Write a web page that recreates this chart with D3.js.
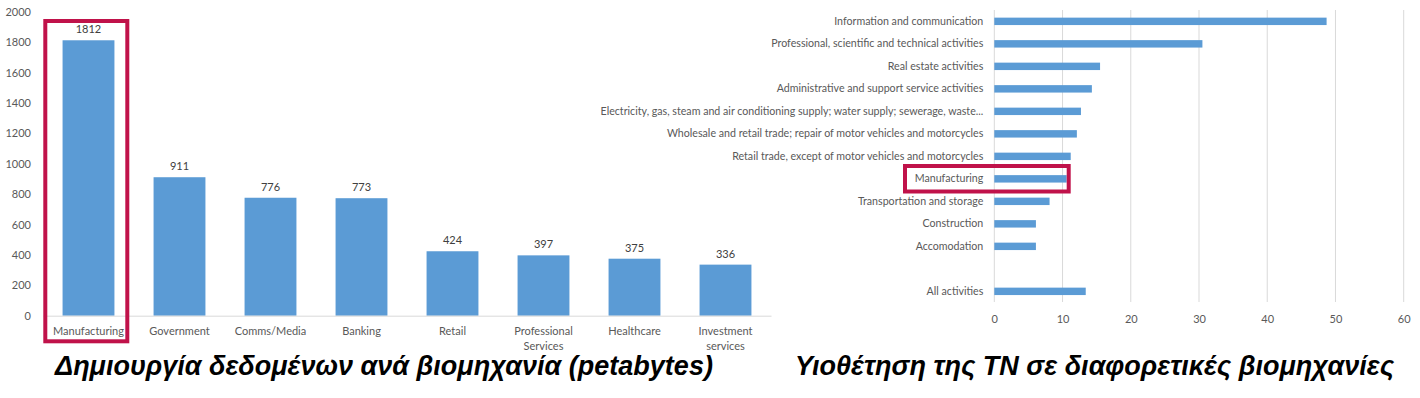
<!DOCTYPE html>
<meta charset="utf-8" />
<style>
    body { margin: 0; background: #fff; }
    .tick text { fill: #595959; font-family: Lato, "Open Sans", sans-serif; font-size: 11px; }
    .cats .tick text { font-size: 10.65px; }
    .vlabel { fill: #404040; font-family: Lato, "Open Sans", sans-serif; font-size: 11px; }
    .title { font-family: "Liberation Sans", Arial, sans-serif; font-weight: bold; font-style: italic; font-size: 27px; fill: #000; }
</style>
<svg width="1420" height="398"></svg>
<script src="https://d3js.org/d3.v7.min.js"></script>
<script>
    // left chart data (petabytes)
    var leftCategories = ["Manufacturing", "Government", "Comms/Media", "Banking", "Retail",
        "Professional Services", "Healthcare", "Investment services"];
    var leftValues = [1812, 911, 776, 773, 424, 397, 375, 336];
    var leftTicks = [0, 200, 400, 600, 800, 1000, 1200, 1400, 1600, 1800, 2000];

    // right chart data (blank row before "All activities")
    var rightCategories = [
        "Information and communication",
        "Professional, scientific and technical activities",
        "Real estate activities",
        "Administrative and support service activities",
        "Electricity, gas, steam and air conditioning supply; water supply; sewerage, waste...",
        "Wholesale and retail trade; repair of motor vehicles and motorcycles",
        "Retail trade, except of motor vehicles and motorcycles",
        "Manufacturing",
        "Transportation and storage",
        "Construction",
        "Accomodation",
        "",
        "All activities"
    ];
    var rightValues = [48.7, 30.5, 15.5, 14.3, 12.7, 12.1, 11.2, 10.6, 8.1, 6.1, 6.1, null, 13.4];
    var rightTicks = [0, 10, 20, 30, 40, 50, 60];

    var titles = ["Δημιουργία δεδομένων ανά βιομηχανία (petabytes)",
        "Υιοθέτηση της ΤΝ σε διαφορετικές βιομηχανίες"];

    var svg = d3.select("svg");
    var barColor = "#5b9bd5";
    var boxColor = "#c0124a";

    // ---------- left chart ----------
    var x1 = d3.scaleBand().domain(leftCategories).range([43, 771])
        .paddingInner(0.43).paddingOuter(0.215);
    var y1 = d3.scaleLinear().domain([0, 2000]).range([315.7, 11.7]);

    var left = svg.append("g");

    left.append("g")
        .attr("transform", "translate(43,0)")
        .call(d3.axisLeft(y1).tickValues(leftTicks).tickSize(0).tickPadding(12).tickFormat(d3.format("d")))
        .call(function (g) { g.select(".domain").remove(); });

    left.selectAll("rect")
        .data(leftValues)
        .enter()
        .append("rect")
        .attr("x", function (d, i) { return x1(leftCategories[i]); })
        .attr("y", function (d) { return y1(d); })
        .attr("width", x1.bandwidth())
        .attr("height", function (d) { return y1(0) - y1(d); })
        .attr("fill", barColor);

    left.selectAll(".vlabel")
        .data(leftValues)
        .enter()
        .append("text")
        .attr("class", "vlabel")
        .attr("x", function (d, i) { return x1(leftCategories[i]) + x1.bandwidth() / 2; })
        .attr("y", function (d) { return y1(d) - 7; })
        .attr("text-anchor", "middle")
        .text(function (d) { return d; });

    var xAxis1 = left.append("g")
        .attr("transform", "translate(0," + y1(0) + ")")
        .call(d3.axisBottom(x1).tickSize(0).tickPadding(12));
    xAxis1.select(".domain").attr("stroke", "#d9d9d9");
    xAxis1.selectAll(".tick text").call(wrap, 80);

    // red highlight box
    left.append("rect")
        .attr("x", 45.3).attr("y", 21)
        .attr("width", 82).attr("height", 320.3)
        .attr("fill", "none").attr("stroke", boxColor).attr("stroke-width", 4);

    // ---------- right chart ----------
    var x2 = d3.scaleLinear().domain([0, 60]).range([994.3, 1403.7]);
    var y2 = d3.scaleBand().domain(d3.range(rightCategories.length)).range([10.1, 302.6])
        .paddingInner(0.67).paddingOuter(0.335);

    var right = svg.append("g");

    right.append("g")
        .selectAll("line")
        .data(rightTicks)
        .enter()
        .append("line")
        .attr("x1", function (d) { return x2(d); })
        .attr("x2", function (d) { return x2(d); })
        .attr("y1", 10)
        .attr("y2", 302)
        .attr("stroke", "#d9d9d9");

    right.append("g")
        .attr("transform", "translate(0,302)")
        .call(d3.axisBottom(x2).tickValues(rightTicks).tickSize(0).tickPadding(13))
        .call(function (g) { g.select(".domain").remove(); });

    right.append("g")
        .attr("class", "cats")
        .attr("transform", "translate(" + x2(0) + ",0)")
        .call(d3.axisLeft(y2).tickSize(0).tickPadding(11)
            .tickFormat(function (i) { return rightCategories[i]; }))
        .call(function (g) { g.select(".domain").remove(); });

    var rows = d3.range(rightValues.length).filter(function (i) { return rightValues[i] != null; });

    right.selectAll("rect")
        .data(rows)
        .enter()
        .append("rect")
        .attr("x", x2(0))
        .attr("y", function (i) { return y2(i); })
        .attr("height", y2.bandwidth())
        .attr("width", function (i) { return x2(rightValues[i]) - x2(0); })
        .attr("fill", barColor);

    right.append("rect")
        .attr("x", 905).attr("y", 166)
        .attr("width", 163.7).attr("height", 25.5)
        .attr("fill", "none").attr("stroke", boxColor).attr("stroke-width", 4);

    // ---------- titles ----------
    svg.append("text").attr("class", "title")
        .attr("x", 55).attr("y", 375).text(titles[0]);
    svg.append("text").attr("class", "title")
        .attr("x", 795).attr("y", 375).text(titles[1]);

    function wrap(text, width) {
        text.each(function () {
            var text = d3.select(this),
                words = text.text().split(/\s+/).reverse(),
                word,
                line = [],
                lineNumber = 0,
                lineHeight = 1.35,
                y = text.attr("y"),
                dy = parseFloat(text.attr("dy")),
                tspan = text.text(null).append("tspan").attr("x", 0).attr("y", y).attr("dy", dy + "em");
            while (word = words.pop()) {
                line.push(word);
                tspan.text(line.join(" "));
                if (tspan.node().getComputedTextLength() > width && line.length > 1) {
                    line.pop();
                    tspan.text(line.join(" "));
                    line = [word];
                    tspan = text.append("tspan").attr("x", 0).attr("y", y)
                        .attr("dy", ++lineNumber * lineHeight + dy + "em").text(word);
                }
            }
        });
    }
</script>
